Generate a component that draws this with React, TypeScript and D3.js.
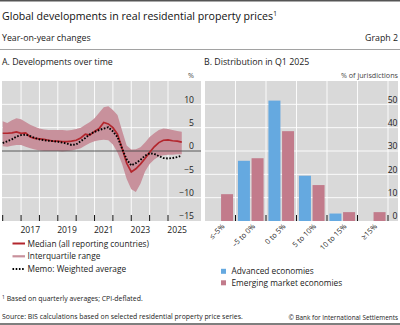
import React from "react";
import * as d3 from "d3";

// ---------- Panel A data (quarterly, year-on-year %, 2016Q1..2025Q4 positions) ----------
const quarters = d3.range(40).map((i) => 2016 + i * 0.25);
const median = [
  3.8, 3.8, 3.9, 4.1, 3.8, 3.9, 3.0, 2.7, 2.6, 2.5, 2.3, 2.1, 2.1, 2.0, 2.0, 2.1,
  2.3, 2.8, 3.6, 3.4, 4.2, 4.8, 6.1, 5.8, 5.0, 3.6, 0.6, -2.6, -4.5, -3.8, -2.8, -1.6,
  -0.3, 0.9, 1.8, 2.3, 2.4, 2.2, 2.1, 1.9,
];
const weighted = [
  1.7, 2.1, 2.5, 3.1, 3.4, 3.5, 3.2, 2.8, 2.5, 2.3, 2.2, 2.1, 2.0, 1.8, 1.6, 1.3,
  1.4, 2.1, 2.8, 3.6, 4.1, 4.5, 4.8, 5.1, 4.2, 3.0, 0.5, -1.8, -3.1, -2.6, -1.9, -1.0,
  -0.5, -0.6, -1.1, -1.5, -1.6, -1.5, -1.3, -1.0,
];
const iqrUpper = [
  6.4, 6.0, 6.6, 7.0, 6.8, 6.2, 5.6, 5.2, 4.8, 4.6, 4.5, 4.5, 4.5, 4.5, 4.4, 4.5,
  4.7, 5.0, 5.6, 6.2, 7.0, 8.2, 9.4, 9.6, 8.8, 7.7, 4.4, 1.2, 0.3, 0.4, 0.8, 1.8,
  3.0, 3.8, 4.5, 4.8, 4.7, 4.5, 4.3, 4.1,
];
const iqrLower = [
  1.0, 0.9, 1.1, 1.3, 1.3, 0.9, 0.6, 0.3, 0.1, 0.0, 0.0, 0.0, 0.0, -0.1, 0.0, 0.1,
  0.3, 0.6, 1.2, 1.7, 2.1, 2.3, 2.4, 2.3, 1.4, -0.3, -2.8, -6.0, -8.2, -8.8, -7.0, -4.4,
  -2.8, -1.8, -1.2, -0.9, -0.8, -0.8, -0.7, -0.7,
];
const yearTicks = d3.range(2016, 2026);
const yearLabels = [2017, 2019, 2021, 2023, 2025];
const aTicks = [15, 10, 5, 0, -5, -10, -15];

// ---------- Panel B data (% of jurisdictions) ----------
const bins = ["≤–5%", "–5 to 0%", "0 to 5%", "5 to 10%", "10 to 15%", "≥15%"];
const advanced = [0, 25.8, 51.6, 19.4, 3.2, 0];
const emerging = [11.5, 26.9, 38.5, 15.4, 3.8, 3.8];
const bTicks = [60, 50, 40, 30, 20, 10, 0];

const FONT = "'Open Sans', 'Noto Sans', sans-serif";
const GRAY_BG = "#d9d9d9";
const RED = "#b3262d";
const BAND = "#c8919c";
const BLUE = "#65a9e0";
const PINK = "#c27b8b";

export default function App() {
  // Panel A scales
  const xA = d3.scaleLinear().domain([2016, 2025]).range([2.7, 168]);
  const yA = d3.scaleLinear().domain([-15, 15]).range([221, 81]);
  const area = d3
    .area<number>()
    .x((d, i) => xA(quarters[i]))
    .y0((d, i) => yA(iqrLower[i]))
    .y1((d, i) => yA(iqrUpper[i]));
  const line = (vals: number[]) =>
    d3
      .line<number>()
      .x((d, i) => xA(quarters[i]))
      .y((d) => yA(d))(vals) as string;

  // Panel B scales
  const xB = d3.scaleBand<string>().domain(bins).range([205, 388]).paddingInner(0.16).paddingOuter(0.08);
  const xSub = d3.scaleBand<string>().domain(["adv", "eme"]).range([0, xB.bandwidth()]).paddingInner(0.12);
  const yB = d3.scaleLinear().domain([0, 60]).range([221, 81]);
  const step = xB.step();

  const tickLabel = { fontFamily: FONT, fontSize: 8.6, fill: "#222" } as const;

  return (
    <svg
      width={400}
      height={325}
      style={{ position: "absolute", left: 0, top: 0, background: "#fff" }}
      fontFamily={FONT}
    >
      {/* rules */}
      <line x1={0} x2={400} y1={0.7} y2={0.7} stroke="#555" strokeWidth={1.4} />
      <line x1={0} x2={400} y1={49.5} y2={49.5} stroke="#8a8a8a" strokeWidth={0.8} />
      <line x1={0} x2={400} y1={324} y2={324} stroke="#555" strokeWidth={1.4} />

      {/* titles */}
      <text x={2} y={20} fontSize={10.6} fill="#111">
        Global developments in real residential property prices
        <tspan fontSize={6.5} dy={-4}>1</tspan>
      </text>
      <text x={2} y={40.5} fontSize={8.8} fill="#222">Year-on-year changes</text>
      <text x={398} y={40.5} fontSize={8.8} fill="#222" textAnchor="end">Graph 2</text>
      <text x={2} y={65} fontSize={8.8} fill="#222">A. Developments over time</text>
      <text x={204} y={65} fontSize={8.8} fill="#222">B. Distribution in Q1 2025</text>
      <text x={194} y={78} fontSize={7.2} fill="#444" textAnchor="end">%</text>
      <text x={398} y={78} fontSize={7.2} fill="#444" textAnchor="end">% of jurisdictions</text>

      {/* ---------- Panel A ---------- */}
      <rect x={2} y={81} width={199} height={140} fill={GRAY_BG} />
      {aTicks
        .filter((t) => t !== 0 && t !== 15 && t !== -15)
        .map((t) => (
          <line key={"ag" + t} x1={2} x2={201} y1={yA(t)} y2={yA(t)} stroke="#fff" strokeWidth={0.9} />
        ))}
      {yearTicks.slice(1).map((t) => (
        <line key={"av" + t} x1={xA(t)} x2={xA(t)} y1={81} y2={221} stroke="#fff" strokeWidth={0.9} />
      ))}
      <path d={area(quarters) as string} fill={BAND} />
      <line x1={2} x2={201} y1={yA(0)} y2={yA(0)} stroke="#4a4a4a" strokeWidth={0.9} />
      <path d={line(median)} fill="none" stroke={RED} strokeWidth={1.7} />
      <path d={line(weighted)} fill="none" stroke="#000" strokeWidth={1.9} strokeDasharray="1.6,1.6" />
      {yearTicks.map((t) => (
        <line key={"at" + t} x1={xA(t)} x2={xA(t)} y1={215} y2={221} stroke="#111" strokeWidth={1} />
      ))}
      {aTicks
        .filter((t) => t !== 15)
        .map((t) => (
          <text key={"al" + t} x={194} y={yA(t) - 1.8} textAnchor="end" {...tickLabel}>
            {t < 0 ? "−" + Math.abs(t) : String(t)}
          </text>
        ))}
      {yearLabels.map((y) => (
        <text key={"ay" + y} x={xA(y + 0.5)} y={232.5} textAnchor="middle" {...tickLabel}>
          {y}
        </text>
      ))}

      {/* legend A */}
      <line x1={12.5} x2={25} y1={243.5} y2={243.5} stroke={RED} strokeWidth={2} />
      <text x={27.5} y={246.5} fontSize={8.3} fill="#222">Median (all reporting countries)</text>
      <line x1={12.5} x2={25} y1={256.3} y2={256.3} stroke={BAND} strokeWidth={2.2} />
      <text x={27.5} y={259.3} fontSize={8.3} fill="#222">Interquartile range</text>
      <line x1={12.5} x2={25} y1={269} y2={269} stroke="#000" strokeWidth={1.9} strokeDasharray="1.6,1.6" />
      <text x={27.5} y={272} fontSize={8.3} fill="#222">Memo: Weighted average</text>

      {/* ---------- Panel B ---------- */}
      <rect x={205} y={81} width={193} height={140} fill={GRAY_BG} />
      {bTicks
        .filter((t) => t !== 0 && t !== 60)
        .map((t) => (
          <line key={"bg" + t} x1={205} x2={398} y1={yB(t)} y2={yB(t)} stroke="#fff" strokeWidth={0.9} />
        ))}
      {bins.map((b, i) => (
        <line
          key={"bv" + i}
          x1={205 + (i + 1) * step}
          x2={205 + (i + 1) * step}
          y1={81}
          y2={221}
          stroke="#fff"
          strokeWidth={0.9}
        />
      ))}
      {bins.map((b, i) => (
        <g key={"bar" + i}>
          {advanced[i] > 0 && (
            <rect
              x={(xB(b) as number) + (xSub("adv") as number)}
              y={yB(advanced[i])}
              width={xSub.bandwidth()}
              height={yB(0) - yB(advanced[i])}
              fill={BLUE}
            />
          )}
          {emerging[i] > 0 && (
            <rect
              x={(xB(b) as number) + (xSub("eme") as number)}
              y={yB(emerging[i])}
              width={xSub.bandwidth()}
              height={yB(0) - yB(emerging[i])}
              fill={PINK}
            />
          )}
        </g>
      ))}
      {bins.map((b, i) => (
        <line
          key={"bt" + i}
          x1={205 + (i + 1) * step}
          x2={205 + (i + 1) * step}
          y1={215}
          y2={221}
          stroke="#111"
          strokeWidth={1}
        />
      ))}
      {bTicks
        .filter((t) => t !== 60)
        .map((t) => (
          <text key={"bl" + t} x={397.5} y={yB(t) - 1.8} textAnchor="end" {...tickLabel}>
            {t}
          </text>
        ))}
      {bins.map((b, i) => {
        const cx = (xB(b) as number) + xB.bandwidth() / 2 + 3;
        return (
          <text
            key={"bx" + i}
            transform={`translate(${cx},${225}) rotate(-45)`}
            textAnchor="end"
            dy="0.35em"
            fontSize={7.4}
            fill="#222"
          >
            {b}
          </text>
        );
      })}

      {/* legend B */}
      <rect x={221} y={268.8} width={5} height={5} fill={BLUE} />
      <text x={231.5} y={274} fontSize={8.3} fill="#222">Advanced economies</text>
      <rect x={221} y={280.3} width={5} height={5} fill={PINK} />
      <text x={231.5} y={285.5} fontSize={8.3} fill="#222">Emerging market economies</text>

      {/* footnotes */}
      <text x={2} y={301} fontSize={6.9} fill="#222">
        <tspan fontSize={5} dy={-2.5}>1</tspan>
        <tspan dy={2.5}> Based on quarterly averages; CPI-deflated.</tspan>
      </text>
      <text x={2} y={319} fontSize={6.9} fill="#222">
        Source: BIS calculations based on selected residential property price series.
      </text>
      <text x={398} y={319.5} fontSize={6.4} fill="#222" textAnchor="end">
        © Bank for International Settlements
      </text>
    </svg>
  );
}
